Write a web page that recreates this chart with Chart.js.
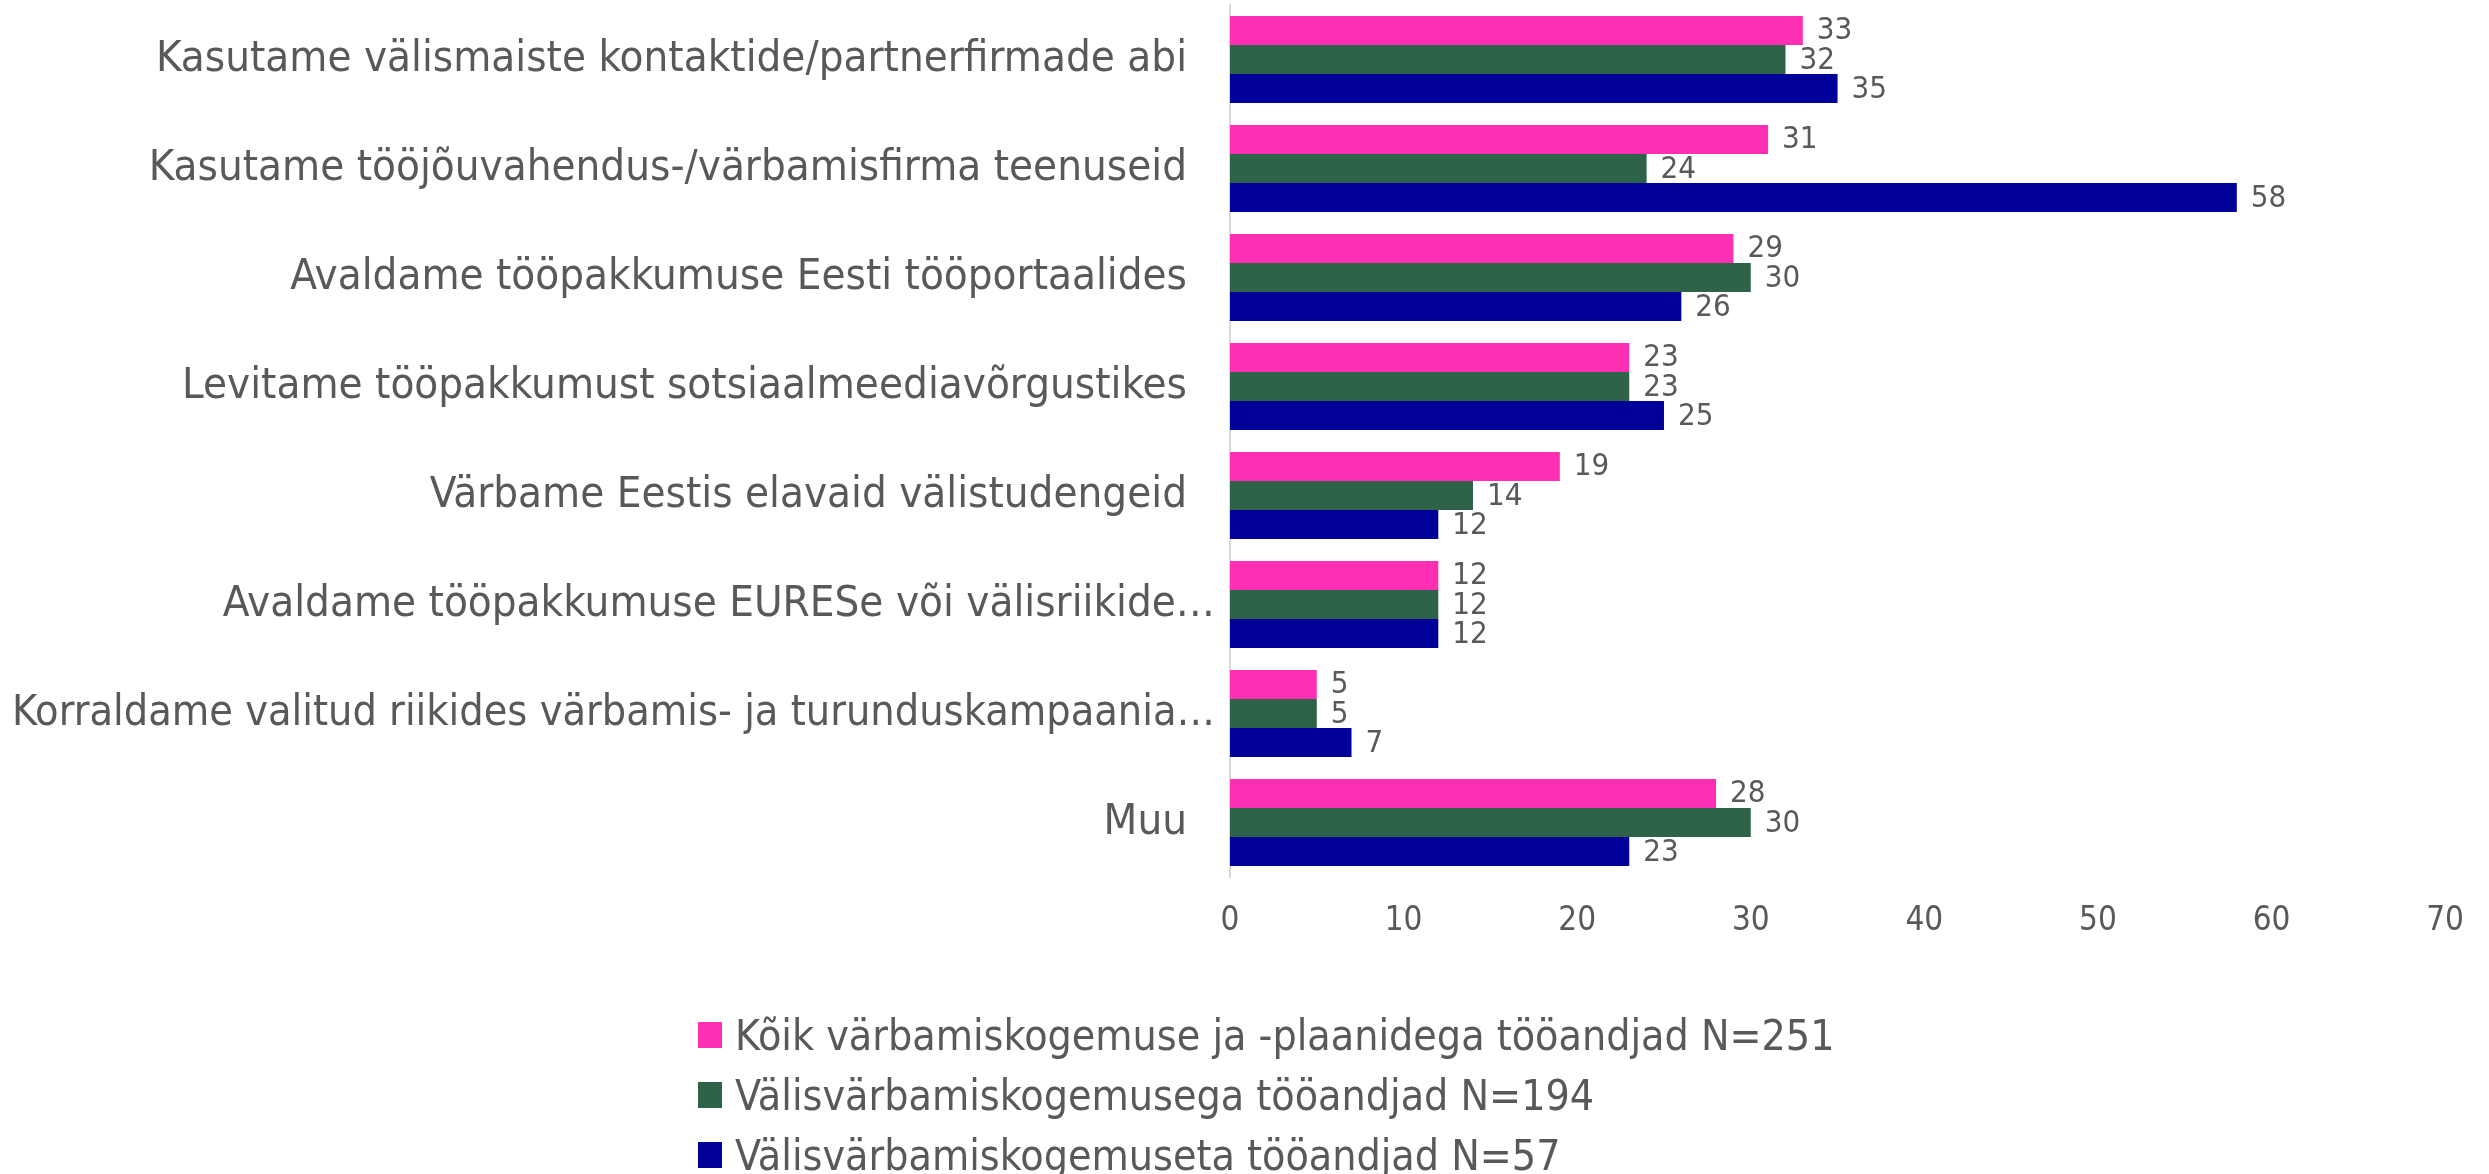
<!DOCTYPE html>
<html>
<head>
<meta charset="utf-8">
<title>Värbamisviisid</title>
<script src="https://cdn.jsdelivr.net/npm/chart.js@4.4.0/dist/chart.umd.min.js"></script>
<style>
  body { margin: 0; background: #fff; }
  #wrap { position: relative; width: 2489px; height: 1174px; overflow: hidden; }
  #legend {
    position: absolute; left: 698px; top: 1005px;
    font-family: 'Liberation Sans Narrow', 'DejaVu Sans Condensed', sans-serif;
    font-size: 42.5px; color: #595959;
  }
  .item { display: flex; align-items: center; height: 60px; white-space: nowrap; }
  .box { width: 24px; height: 26px; margin-right: 13px; flex: none; }
</style>
</head>
<body>
<div id="wrap">
  <canvas id="chart" width="2489" height="1174"></canvas>
  <div id="legend"></div>
</div>
<script>
// Categories (top to bottom) and series values
const categories = [
  'Kasutame välismaiste kontaktide/partnerfirmade abi',
  'Kasutame tööjõuvahendus-/värbamisfirma teenuseid',
  'Avaldame tööpakkumuse Eesti tööportaalides',
  'Levitame tööpakkumust sotsiaalmeediavõrgustikes',
  'Värbame Eestis elavaid välistudengeid',
  'Avaldame tööpakkumuse EURESe või välisriikide…',
  'Korraldame valitud riikides värbamis- ja turunduskampaania…',
  'Muu'
];
const seriesNames = [
  'Kõik värbamiskogemuse ja -plaanidega tööandjad N=251',
  'Välisvärbamiskogemusega tööandjad N=194',
  'Välisvärbamiskogemuseta tööandjad N=57'
];
const allEmployers = [33, 31, 29, 23, 19, 12, 5, 28];
const withForeign = [32, 24, 30, 23, 14, 12, 5, 30];
const withoutForeign = [35, 58, 26, 25, 12, 12, 7, 23];
const xTicks = [0, 10, 20, 30, 40, 50, 60, 70];

const colors = ['#ff2fb4', '#2e634a', '#000099'];
const textColor = '#595959';
const fontFamily = "'Liberation Sans Narrow', 'DejaVu Sans Condensed', sans-serif";

// Draw the value next to the end of every bar
const valueLabels = {
  id: 'valueLabels',
  afterDatasetsDraw(chart) {
    const ctx = chart.ctx;
    ctx.save();
    ctx.font = '31px ' + fontFamily;
    ctx.fillStyle = textColor;
    ctx.textAlign = 'left';
    ctx.textBaseline = 'middle';
    chart.data.datasets.forEach((ds, i) => {
      chart.getDatasetMeta(i).data.forEach((bar, j) => {
        ctx.fillText(ds.data[j], bar.x + 14, bar.y + 1);
      });
    });
    ctx.restore();
  }
};

// Category labels; the cut-off ones (with the ellipsis) sit a bit further right, like in Excel
const categoryLabels = {
  id: 'categoryLabels',
  afterDraw(chart) {
    const ctx = chart.ctx;
    const y = chart.scales.y;
    ctx.save();
    ctx.font = '43.5px ' + fontFamily;
    ctx.fillStyle = textColor;
    ctx.textAlign = 'right';
    ctx.textBaseline = 'middle';
    chart.data.labels.forEach((label, i) => {
      const shift = label.endsWith('…') ? 28 : 0;
      const x = chart.chartArea.left - 43 + shift;
      ctx.fillText(label, x, y.getPixelForTick(i), x - 12);
    });
    ctx.restore();
  }
};

const seriesData = [allEmployers, withForeign, withoutForeign];

const chart = new Chart(document.getElementById('chart').getContext('2d'), {
  type: 'bar',
  data: {
    labels: categories,
    datasets: seriesData.map((d, i) => ({
      label: seriesNames[i],
      data: d,
      backgroundColor: colors[i],
      borderWidth: 0,
      barPercentage: 1,
      categoryPercentage: 0.8
    }))
  },
  options: {
    indexAxis: 'y',
    responsive: false,
    animation: false,
    layout: { padding: { top: 5, right: 26, bottom: 237, left: 0 } },
    plugins: {
      legend: { display: false },
      tooltip: { enabled: false }
    },
    scales: {
      x: {
        min: 0,
        max: 70,
        afterBuildTicks: s => { s.ticks = xTicks.map(v => ({ value: v })); },
        ticks: { color: textColor, font: { family: fontFamily, size: 33 }, padding: 25 },
        grid: { display: false, drawTicks: false },
        border: { display: false },
        afterFit: s => { s.height = 60; }
      },
      y: {
        ticks: { display: false },
        grid: { display: false, drawTicks: false },
        border: { display: true, color: '#d9d9d9', width: 2 },
        afterFit: s => { s.width = 1230; s.paddingTop = 0; s.paddingBottom = 0; }
      }
    }
  },
  plugins: [valueLabels, categoryLabels]
});

// Legend, one series per row
const legend = document.getElementById('legend');
seriesNames.forEach((name, i) => {
  const row = document.createElement('div');
  row.className = 'item';
  row.innerHTML = '<span class="box" style="background:' + colors[i] + '"></span><span>' + name + '</span>';
  legend.appendChild(row);
});
</script>
</body>
</html>
